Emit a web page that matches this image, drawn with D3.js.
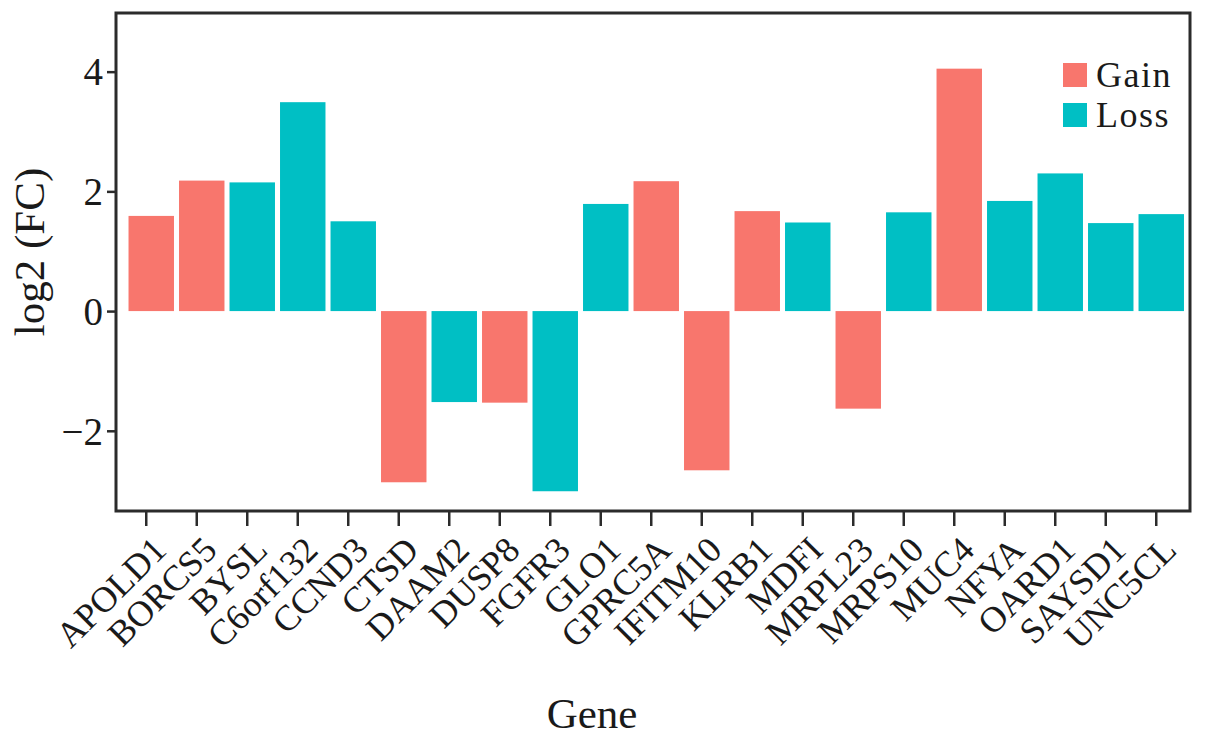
<!DOCTYPE html>
<html>
<head>
<meta charset="utf-8">
<script src="https://cdn.jsdelivr.net/npm/d3@7"></script>
<style>
  html, body { margin: 0; padding: 0; background: #fff; }
  svg text { font-family: "Liberation Serif", "Times New Roman", serif; fill: #1a1a1a; }
</style>
</head>
<body>
<svg id="chart" width="1205" height="744"></svg>
<script>
const genes = ["APOLD1","BORCS5","BYSL","C6orf132","CCND3","CTSD","DAAM2","DUSP8","FGFR3","GLO1","GPRC5A","IFITM10","KLRB1","MDFI","MRPL23","MRPS10","MUC4","NFYA","OARD1","SAYSD1","UNC5CL"];
const log2FC = [1.59, 2.18, 2.15, 3.49, 1.50, -2.86, -1.52, -1.53, -3.01, 1.79, 2.17, -2.66, 1.67, 1.48, -1.63, 1.65, 4.05, 1.84, 2.30, 1.47, 1.62];
const type = ["Gain","Gain","Loss","Loss","Loss","Gain","Loss","Gain","Loss","Loss","Gain","Gain","Gain","Loss","Gain","Loss","Gain","Loss","Loss","Loss","Loss"];
const groups = ["Gain","Loss"];
const colors = ["#F8766D","#00BFC4"];
const yTicks = [-2, 0, 2, 4];

const svg = d3.select("#chart");
const frame = {left: 116, top: 13, right: 1190, bottom: 511};

const y = d3.scaleLinear().domain([-3.34, 4.98]).range([frame.bottom, frame.top]);
const x = d3.scaleBand().domain(genes).range([126, 1186.5]).paddingInner(0.1).paddingOuter(0.05);
const color = d3.scaleOrdinal().domain(groups).range(colors);
const tickOffset = -5;

// bars
svg.append("g").selectAll("rect")
  .data(genes.map((g, i) => ({g, v: log2FC[i], t: type[i]})))
  .join("rect")
  .attr("x", d => x(d.g))
  .attr("width", x.bandwidth())
  .attr("y", d => y(Math.max(0, d.v)))
  .attr("height", d => Math.abs(y(d.v) - y(0)))
  .attr("fill", d => color(d.t));

// frame
svg.append("rect")
  .attr("x", frame.left).attr("y", frame.top)
  .attr("width", frame.right - frame.left).attr("height", frame.bottom - frame.top)
  .attr("fill", "none").attr("stroke", "#2b2b2b").attr("stroke-width", 3);

// y axis
const yAxis = svg.append("g")
  .attr("transform", `translate(${frame.left},0)`)
  .call(d3.axisLeft(y).tickValues(yTicks).tickSize(9).tickPadding(4)
        .tickFormat(d => d < 0 ? "\u2212" + Math.abs(d) : d));
yAxis.select(".domain").remove();
yAxis.selectAll(".tick line").attr("stroke", "#2b2b2b").attr("stroke-width", 2.5);
yAxis.selectAll(".tick text").attr("font-size", 39).attr("fill", "#1a1a1a")
  .attr("font-family", "Liberation Serif, serif").attr("dy", "0.34em");

// x axis
const xAxis = svg.append("g")
  .attr("transform", `translate(${tickOffset},${frame.bottom})`)
  .call(d3.axisBottom(x).tickSize(15).tickPadding(0));
xAxis.select(".domain").remove();
xAxis.selectAll(".tick line").attr("stroke", "#2b2b2b").attr("stroke-width", 2.5);
xAxis.selectAll(".tick text")
  .attr("font-size", 36).attr("fill", "#1a1a1a")
  .attr("font-family", "Liberation Serif, serif")
  .attr("text-anchor", "end")
  .attr("dy", null).attr("y", null)
  .attr("transform", "translate(22,41) rotate(-45)");

// axis titles
svg.append("text").attr("x", 592).attr("y", 728)
  .attr("text-anchor", "middle").attr("font-size", 43).text("Gene");
svg.append("text")
  .attr("transform", "translate(44,252) rotate(-90)")
  .attr("text-anchor", "middle").attr("font-size", 43).text("log2 (FC)");

// legend
const leg = svg.append("g");
groups.forEach((g, i) => {
  leg.append("rect").attr("x", 1063).attr("y", 63 + i * 40)
    .attr("width", 24).attr("height", 24).attr("fill", color(g));
  leg.append("text").attr("x", 1096).attr("y", 87 + i * 40)
    .attr("font-size", 36).attr("letter-spacing", 1.5).text(g);
});
</script>
</body>
</html>
